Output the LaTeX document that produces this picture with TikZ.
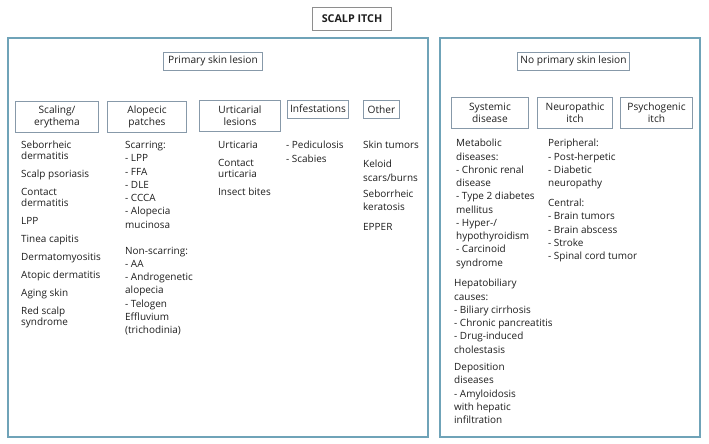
\documentclass[tikz,border=0pt]{standalone}
\usepackage{fontspec}
\setmainfont{Open Sans}

\begin{document}
\begin{tikzpicture}[x=1bp,y=-1bp]
	
	% INPUTS
	
	\newcommand{\listgap}{7pt};				% extra space between two entries of a list
	\newcommand{\listx}{21};					% left edge of the first list
	\newcommand{\listtop}{141};				% top of the lists under the headings
	
	% colours
	\definecolor{panelline}{HTML}{6FA3B8}
	\definecolor{boxline}{HTML}{8799A9}
	\definecolor{titleline}{HTML}{8E8E8E}
	\definecolor{listtext}{HTML}{1E1E1E}
	
	% styles
	\tikzstyle{panel}=[draw=panelline,line width=1.4bp];
	\tikzstyle{heading}=[draw=boxline,line width=0.9bp,inner sep=0pt,align=center,text=listtext,font=\fontsize{10.2}{12}\selectfont];
	\tikzstyle{itemlist}=[anchor=north west,inner sep=0pt,align=left,text=listtext,font=\fontsize{10}{11}\selectfont];
	\tikzstyle{widelist}=[style=itemlist,font=\fontsize{10}{13.3}\selectfont];
	
	\useasboundingbox (0,0) rectangle (709,444);
	
	% title and the two panels
	\node[heading,draw=titleline,minimum width=80,minimum height=23,font=\fontsize{10.8}{12}\selectfont\bfseries] (title) at (352,18.5) {SCALP ITCH};
	
	\draw[style=panel] (8,38) rectangle (428,437);
	\draw[style=panel] (440,38) rectangle (700,437);
	
	\node[heading,minimum width=100,minimum height=18] (primary) at (213,61) {Primary skin lesion};
	\node[heading,minimum width=113,minimum height=18] (noprimary) at (573.5,61) {No primary skin lesion};
	
	% headings of the left panel
	\node[heading,minimum width=84,minimum height=32] (scaling) at (57,117) {Scaling/\\erythema};
	\node[heading,minimum width=80,minimum height=32] (alopecic) at (147,117) {Alopecic\\patches};
	\node[heading,minimum width=82,minimum height=32] (urticarial) at (240,116) {Urticarial\\lesions};
	\node[heading,minimum width=62,minimum height=18] (infestations) at (318,109) {Infestations};
	\node[heading,minimum width=37,minimum height=18] (other) at (381.5,109.5) {Other};
	
	% headings of the right panel
	\node[heading,minimum width=78,minimum height=32] (systemic) at (490,113) {Systemic\\disease};
	\node[heading,minimum width=76,minimum height=32] (neuropathic) at (575,113) {Neuropathic\\itch};
	\node[heading,minimum width=73,minimum height=32] (psychogenic) at (656.5,113) {Psychogenic\\itch};
	
	% lists of the left panel
	\node[style=itemlist] (scalinglist) at (\listx,\listtop) {Seborrheic\\dermatitis\\[\listgap]Scalp psoriasis\\[\listgap]Contact\\dermatitis\\[\listgap]LPP\\[\listgap]Tinea capitis\\[\listgap]Dermatomyositis\\[\listgap]Atopic dermatitis\\[\listgap]Aging skin\\[\listgap]Red scalp\\syndrome};
	
	\node[style=widelist] (alopeciclist) at (125,\listtop) {Scarring:\\- LPP\\- FFA\\- DLE\\- CCCA\\- Alopecia\\mucinosa\\[13pt]Non-scarring:\\- AA\\- Androgenetic\\alopecia\\- Telogen\\Effluvium\\(trichodinia)};
	
	\node[style=itemlist] (urticariallist) at (218,\listtop) {Urticaria\\[\listgap]Contact\\urticaria\\[\listgap]Insect bites};
	
	\node[style=widelist] (infestationslist) at (286,\listtop) {- Pediculosis\\- Scabies};
	
	\node[style=widelist] (otherlist) at (363,\listtop) {Skin tumors\\[6pt]Keloid\\scars/burns\\[3pt]Seborrheic\\keratosis\\[\listgap]EPPER};
	
	% lists of the right panel
	\node[style=widelist] (metaboliclist) at (456,139) {Metabolic\\diseases:\\- Chronic renal\\disease\\- Type 2 diabetes\\mellitus\\- Hyper-/\\hypothyroidism\\- Carcinoid\\syndrome};
	
	\node[style=widelist] (hepatolist) at (454,279) {Hepatobiliary\\causes:\\- Biliary cirrhosis\\- Chronic pancreatitis\\- Drug-induced\\cholestasis};
	
	\node[style=widelist] (depositionlist) at (454,363) {Deposition\\diseases\\- Amyloidosis\\with hepatic\\infiltration};
	
	\node[style=widelist] (neuropathiclist) at (548,139) {Peripheral:\\- Post-herpetic\\- Diabetic\\neuropathy\\[\listgap]Central:\\- Brain tumors\\- Brain abscess\\- Stroke\\- Spinal cord tumor};
	
\end{tikzpicture}
\end{document}
